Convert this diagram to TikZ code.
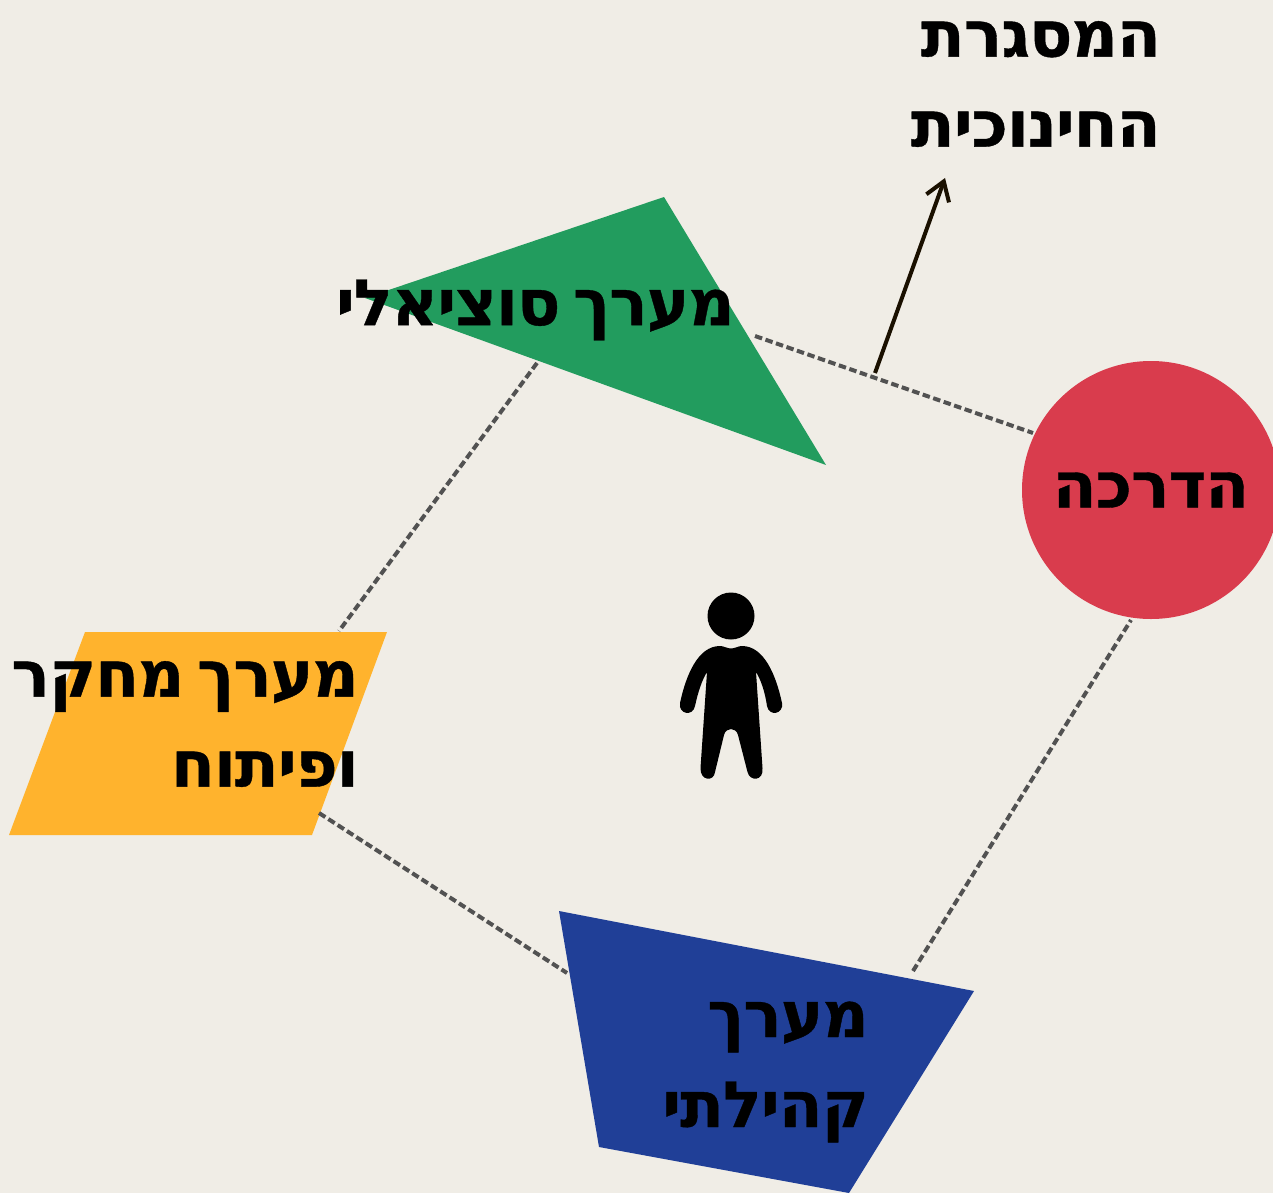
\documentclass[tikz,border=0pt]{standalone}
\usepackage{fontspec}
\setmainfont{DejaVu Sans}[Script=Hebrew, BoldFeatures={LetterSpace=-1.5,FakeBold=0.6,WordSpace=0.6}]
\TeXXeTstate=1
\usepackage{tikz}
\usetikzlibrary{arrows.meta}
\definecolor{paper}{HTML}{F0EDE6}
\definecolor{socialgreen}{HTML}{229C5E}
\definecolor{guidered}{HTML}{D93C4D}
\definecolor{researchyellow}{HTML}{FFB32D}
\definecolor{communityblue}{HTML}{203F97}
\definecolor{arrowbrown}{HTML}{1A1000}
\newcommand{\heb}[1]{\beginR #1\endR}
\tikzstyle{title} = [inner sep=0pt, align=right, text=black, font=\fontsize{64}{90}\selectfont\bfseries]
\tikzstyle{link} = [draw=black!68, line width=4pt, dash pattern=on 7.5pt off 3.6pt]
\tikzstyle{line} = [draw=arrowbrown, line width=4pt, -{Straight Barb[length=18pt,width=24pt]}]

\begin{document}
\begin{tikzpicture}[x=1pt, y=-1pt]
      \useasboundingbox (0,0) rectangle (1273,1193);
      \fill [paper] (0,0) rectangle (1273,1193);
      %% Shapes
      \fill [socialgreen] (365,298) -- (664,197) -- (826,465) -- cycle;
      \fill [researchyellow] (85,632) -- (387,632) -- (312,835) -- (9,835) -- cycle;
      \fill [communityblue] (559,911) -- (974,991) -- (849,1193) -- (599,1147) -- cycle;
      \node [circle, fill=guidered, minimum size=258pt, inner sep=0pt, title] (G) at (1151,490) {\heb{הדרכה}};
      %% Labels
      \node [title, anchor=east] (S) at (735,310) {\heb{מערך סוציאלי}};
      \node [title, anchor=east] (R) at (359,724) {\heb{מערך מחקר}\\\heb{ופיתוח}};
      \node [title, anchor=east] (C) at (869,1072) {\heb{מערך}\\\heb{קהילתי}};
      \node [title, anchor=east] (F) at (1161,84) {\heb{המסגרת}\\\heb{החינוכית}};
      %% Person
      \fill [black] (731,616) circle (23.5);
      \fill [black] (731,648.5) .. controls (727,648.5) and (724,646) .. (720,646)
        .. controls (698,646) and (686,675) .. (680,703)
        .. controls (678,714) and (693,717) .. (695,706)
        .. controls (698,692) and (702,680) .. (707,672)
        -- (700.5,768) .. controls (700,781) and (714,782) .. (715,772)
        -- (724,735) .. controls (726,727) and (736,727) .. (738,735)
        -- (747.5,772) .. controls (750,782) and (764,781) .. (762.5,768)
        -- (756,672) .. controls (761,680) and (765,692) .. (767,706)
        .. controls (769,717) and (784,714) .. (782,703)
        .. controls (776,675) and (764,646) .. (742,646)
        .. controls (738,646) and (735,648.5) .. (731,648.5) -- cycle;
      %% Links
      \coordinate (h1) at (755,336);
      \coordinate (h2) at (1033,433);
      \coordinate (h3) at (537,363);
      \coordinate (h4) at (339,631);
      \coordinate (h5) at (319,813);
      \coordinate (h6) at (567,973);
      \coordinate (h7) at (913,971);
      \coordinate (h8) at (1131,620);
      \coordinate (h9) at (875,373);
      \coordinate (h10) at (945,178);
      \path [link] (h1) to (h2);
      \path [link] (h3) to (h4);
      \path [link] (h5) to (h6);
      \path [link] (h7) to (h8);
      \path [line] (h9) to (h10);
    \end{tikzpicture}
\end{document}
